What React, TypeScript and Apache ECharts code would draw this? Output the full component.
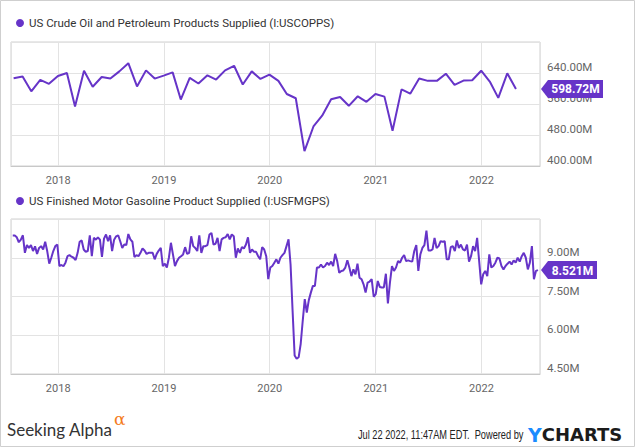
import React, { useEffect, useRef } from "react";
import * as echarts from "echarts";

const topName = "US Crude Oil and Petroleum Products Supplied (I:USCOPPS)";
const bottomName = "US Finished Motor Gasoline Product Supplied (I:USFMGPS)";

// Monthly values (millions of barrels), month-end dates Jul 2017 .. Apr 2022
const topStartYear = 2017;
const topStartMonth = 6; // July (0-based)
const topValues = [
  626.5, 630.7, 592.6, 622.2, 612.1, 632.4,
  640.0, 553.6, 645.9, 604.4, 629.8, 625.6, 644.2, 665.4, 605.3, 646.8, 625.6, 633.2,
  641.7, 571.4, 627.3, 612.9, 634.1, 623.1, 646.8, 658.6, 610.4, 644.2, 624.8, 635.8,
  619.7, 585.8, 574.8, 438.5, 502.0, 529.9, 572.3, 578.2, 555.3, 579.9, 565.5, 585.8,
  579.0, 491.0, 597.7, 586.7, 625.6, 619.7, 619.7, 638.3, 609.5, 620.5, 621.4, 645.9,
  616.3, 575.7, 639.2, 598.72,
];

// Weekly values (millions of barrels per day), ending 2022-07-15
const bottomLastDate = [2022, 6, 15];
const bottomValues = [
  9.86, 9.86, 9.79, 9.60, 9.70, 9.87, 9.19, 9.49, 9.38, 9.49, 9.26, 9.44, 9.15, 9.38, 9.45, 9.32, 9.62, 9.26, 8.77, 9.00,
  9.26, 9.45, 9.51, 8.68, 8.72, 8.67, 8.81, 9.06, 9.10, 9.04, 9.00, 8.91, 9.19, 9.62, 9.67, 9.32, 9.23, 9.26, 9.87, 9.06,
  9.77, 9.70, 9.79, 9.70, 9.03, 9.74, 9.90, 9.64, 9.87, 9.26, 9.70, 9.83, 9.87,
  9.64, 9.38, 9.51, 9.49, 9.92, 9.71, 9.62, 9.03, 9.10, 9.06, 9.19, 9.36, 9.28, 9.15, 9.19, 9.19, 9.19, 8.94, 9.15, 9.28,
  9.38, 8.68, 8.77, 8.62, 9.00, 9.58, 9.13, 8.68, 8.87, 9.00, 9.06, 9.13, 9.41, 9.15, 9.19, 9.83, 9.45, 9.38, 9.26, 9.87,
  9.19, 9.45, 9.45, 9.49, 9.90, 9.96, 9.51, 9.54, 9.77, 9.26, 9.71, 9.77,
  9.79, 9.92, 9.71, 9.90, 9.83, 9.00, 9.36, 9.19, 9.41, 9.36, 9.51, 9.79, 9.19, 9.32, 9.23, 9.23, 9.06, 8.94, 9.41, 9.32,
  9.06, 8.17, 8.62, 8.68, 8.81, 8.94, 8.77, 9.00, 9.10, 9.19, 9.45, 9.71, 8.74, 6.95, 5.22, 5.09, 5.15, 5.67, 6.56, 7.40,
  6.88, 7.36, 7.65, 7.91, 7.91, 8.62, 8.62, 8.74, 8.62, 8.68, 8.81, 8.72,
  8.85, 8.68, 9.15, 8.87, 8.42, 8.49, 8.51, 8.62, 8.90, 8.62, 8.29, 8.55, 8.36, 8.77, 8.23, 8.17, 7.97, 7.65, 8.04, 8.08,
  8.17, 7.49, 7.59, 8.10, 7.87, 7.85, 7.85, 8.38, 7.23, 8.04, 8.68, 8.49, 8.62, 8.87, 8.81, 9.00, 9.10, 8.87, 8.90, 8.87,
  8.85, 9.26, 9.49, 8.49, 9.13, 9.38, 9.49, 10.05, 9.28, 9.28, 9.32, 9.77,
  9.38, 9.45, 9.64, 9.62, 9.64, 8.94, 8.94, 9.41, 9.45, 9.26, 9.67, 9.38, 9.51, 9.32, 9.28, 9.51, 8.85, 9.06, 9.45, 9.26,
  9.77, 8.87, 7.97, 8.36, 8.49, 8.29, 9.13, 8.62, 8.68, 8.81, 9.00, 8.97, 8.68, 8.55, 8.68, 8.77, 8.85, 8.74, 8.90, 8.81,
  9.00, 8.85, 9.06, 9.19, 9.00, 8.55, 8.81, 9.45, 8.17, 8.49, 8.521,
];

const xMin = Date.UTC(2017, 6, 22);
const xMax = Date.UTC(2022, 6, 22);

const topAxis = { min: 400, max: 720, interval: 80 };
const bottomAxis = { min: 4.5, max: 10.5, interval: 1.5 };

const PURPLE = "#6634c8";
const FONT = "Roboto, 'Noto Sans', sans-serif";

export default function App() {
  const ref = useRef<HTMLDivElement>(null);

  useEffect(() => {
    if (!ref.current) return;
    const chart = echarts.init(ref.current, undefined, { renderer: "svg" });

    const DAY = 86400000;
    const topData = topValues.map((v, i) => [
      Date.UTC(topStartYear, topStartMonth + i + 1, 0),
      v,
    ]);
    const lastTs = Date.UTC(bottomLastDate[0], bottomLastDate[1], bottomLastDate[2]);
    const n = bottomValues.length;
    const bottomData = bottomValues.map((v, i) => [lastTs - (n - 1 - i) * 7 * DAY, v]);

    const topLast = topValues[topValues.length - 1];
    const bottomLast = bottomValues[bottomValues.length - 1];

    const xAxisBase = (gridIndex: number) => ({
      type: "time",
      gridIndex,
      min: xMin,
      max: xMax,
      minInterval: 365 * DAY,
      maxInterval: 366 * DAY,
      axisLine: { show: true, lineStyle: { color: "#c8c8c8", width: 1 } },
      axisTick: { show: false },
      splitLine: { show: true, lineStyle: { color: "#e3e3e3", width: 1 } },
      axisLabel: {
        formatter: "{yyyy}",
        color: "#666",
        fontSize: 11,
        fontFamily: FONT,
        margin: 9,
        showMinLabel: false,
        showMaxLabel: false,
      },
    });

    const yAxisBase = (gridIndex: number, cfg: { min: number; max: number; interval: number }, dec: number) => ({
      type: "value",
      gridIndex,
      position: "right",
      min: cfg.min,
      max: cfg.max,
      interval: cfg.interval,
      axisLine: { show: false },
      axisTick: { show: false },
      splitLine: { show: true, lineStyle: { color: "#e3e3e3", width: 1 } },
      axisLabel: {
        formatter: (v: number) => v.toFixed(dec) + "M",
        color: "#666",
        fontSize: 11.5,
        fontFamily: FONT,
        margin: 7,
        verticalAlign: "bottom",
        showMaxLabel: false,
        showMinLabel: true,
      },
    });

    const marker = (xv: number, yv: number, text: string, w: number) => ({
      silent: true,
      symbol: `path://M0,9L7,0L${w},0L${w},18L7,18Z`,
      symbolSize: [w, 18],
      symbolKeepAspect: false,
      symbolOffset: [w / 2 + 1, 0],
      itemStyle: { color: PURPLE },
      label: {
        show: true,
        position: "inside",
        formatter: text,
        color: "#fff",
        fontWeight: "bold",
        fontSize: 12,
        fontFamily: FONT,
        offset: [3.5, 0.5],
      },
      data: [{ coord: [xv, yv] }],
    });

    const legendBase = {
      icon: "circle",
      itemWidth: 8,
      itemHeight: 8,
      itemGap: 0,
      padding: 0,
      selectedMode: false,
      textStyle: { fontSize: 11.5, color: "#333", fontFamily: FONT, padding: [0, 0, 0, 0] },
    };

    chart.setOption({
      animation: false,
      backgroundColor: "#fff",
      legend: [
        { ...legendBase, data: [topName], left: 16, top: 17 },
        { ...legendBase, data: [bottomName], left: 16, top: 195 },
      ],
      grid: [
        { left: 11, right: 95, top: 42, height: 124, show: true, borderColor: "#d0d0d0", borderWidth: 1, backgroundColor: "transparent" },
        { left: 11, right: 95, top: 219, height: 155, show: true, borderColor: "#d0d0d0", borderWidth: 1, backgroundColor: "transparent" },
      ],
      xAxis: [xAxisBase(0), xAxisBase(1)],
      yAxis: [yAxisBase(0, topAxis, 2), yAxisBase(1, bottomAxis, 2)],
      series: [
        {
          name: topName,
          type: "line",
          xAxisIndex: 0,
          yAxisIndex: 0,
          data: topData,
          showSymbol: false,
          symbol: "none",
          lineStyle: { color: PURPLE, width: 2 },
          itemStyle: { color: PURPLE },
          markPoint: marker(xMax, topLast, topLast.toFixed(2) + "M", 62),
        },
        {
          name: bottomName,
          type: "line",
          xAxisIndex: 1,
          yAxisIndex: 1,
          data: bottomData,
          showSymbol: false,
          symbol: "none",
          lineStyle: { color: PURPLE, width: 2 },
          itemStyle: { color: PURPLE },
          markPoint: marker(xMax, bottomLast, bottomLast.toFixed(3) + "M", 56),
        },
      ],
      graphic: [
        {
          type: "rect",
          silent: true,
          shape: { x: 0.5, y: 0.5, width: 634, height: 446 },
          style: { fill: "none", stroke: "#cfcfcf", lineWidth: 1 },
        },
        {
          type: "text",
          left: 7,
          top: 421,
          style: { text: "Seeking Alpha", font: "17px Lato, 'Noto Sans', sans-serif", fill: "#333" },
        },
        {
          type: "text",
          left: 114,
          top: 410,
          style: { text: "α", font: "17px 'DejaVu Serif', serif", fill: "#f47b20" },
        },
        {
          type: "text",
          x: 358,
          y: 429,
          scaleX: 0.77,
          style: {
            text: "Jul 22 2022, 11:47AM EDT.  Powered by",
            font: "12px 'Liberation Sans', Arial, sans-serif",
            fill: "#222",
            verticalAlign: "top",
            align: "left",
          },
        },
        {
          type: "text",
          left: 528,
          top: 425,
          style: {
            text: "{y|Y}{c|CHARTS}",
            rich: {
              y: { font: "bold 19px 'DejaVu Sans', sans-serif", fill: "#1a8cff" },
              c: { font: "bold 18px 'DejaVu Sans', sans-serif", fill: "#1b1b1b" },
            },
          },
        },
      ],
    });

    return () => chart.dispose();
  }, []);

  return (
    <div
      ref={ref}
      style={{ position: "absolute", left: 0, top: 0, width: 635, height: 447 }}
    />
  );
}
